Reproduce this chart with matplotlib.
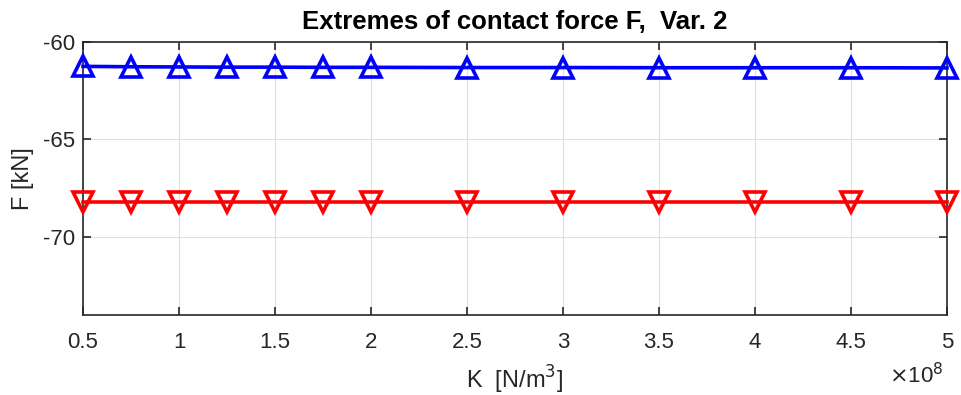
import numpy as np
import matplotlib.pyplot as plt
from matplotlib.ticker import FuncFormatter

# data
K = [0.5e8, 0.75e8, 1e8, 1.25e8, 1.5e8, 1.75e8, 2e8, 2.5e8, 3e8, 3.5e8, 4e8, 4.5e8, 5e8]
F_max = [-61.25, -61.27, -61.28, -61.29, -61.29, -61.30, -61.30, -61.31, -61.31, -61.32, -61.32, -61.32, -61.33]
F_min = [-68.22, -68.22, -68.22, -68.22, -68.22, -68.22, -68.22, -68.22, -68.22, -68.22, -68.22, -68.22, -68.22]

xticks = [0.5e8, 1e8, 1.5e8, 2e8, 2.5e8, 3e8, 3.5e8, 4e8, 4.5e8, 5e8]
yticks = [-70, -65, -60]

plt.rcParams['font.family'] = ['Liberation Sans', 'DejaVu Sans']
plt.rcParams['axes.unicode_minus'] = False
dark = '#262626'

fig = plt.figure(figsize=(9.62, 3.95), dpi=100)
ax = fig.add_axes([0.0863, 0.2025, 0.8981, 0.6912])

ax.plot(K, F_max, color=(0, 0, 1), lw=2.6, marker='^', ms=15, mew=2.6, mfc='none', clip_on=False, zorder=3)
ax.plot(K, F_min, color=(1, 0, 0), lw=2.6, marker='v', ms=15, mew=2.6, mfc='none', clip_on=False, zorder=3)

ax.set_xlim(0.5e8, 5e8)
ax.set_ylim(-74, -60)
ax.set_xticks(xticks)
ax.set_yticks(yticks)
ax.xaxis.set_major_formatter(FuncFormatter(lambda v, _: f'{v / 1e8:g}'))

ax.grid(True, color='#e0e0e0', lw=0.8)
ax.set_axisbelow(True)
for s in ax.spines.values():
    s.set_color(dark)
    s.set_linewidth(1.2)
ax.tick_params(direction='in', length=6, width=1.2, top=True, right=True,
               labelsize=16, colors=dark, pad=6)
ax.tick_params(axis='x', pad=12)

ax.set_title('Extremes of contact force F,  Var. 2', fontsize=18.5, fontweight='bold', pad=9)
ax.set_xlabel('K  [N/m$^3$]', fontsize=17, color=dark, labelpad=8)
ax.set_ylabel('F [kN]', fontsize=17, color=dark, labelpad=6)
fig.text(0.952, 0.03, r'$\times$10$^8$', fontsize=16, color=dark, ha='center')

fig.savefig('out.png', dpi=100)
